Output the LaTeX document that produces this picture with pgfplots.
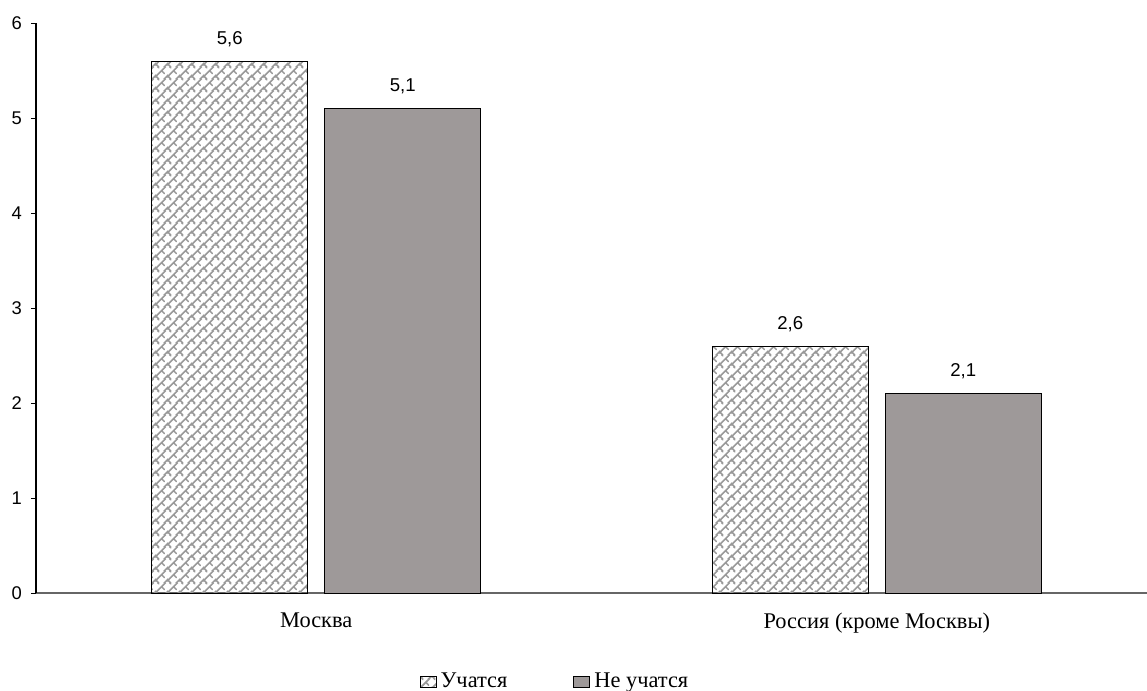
\documentclass[border=0pt]{standalone}
\usepackage{fontspec}
\setmainfont{Liberation Serif}
\setsansfont{Liberation Sans}
\usepackage{pgfplots}
\pgfplotsset{compat=1.18}
\usetikzlibrary{patterns}
\definecolor{bargray}{RGB}{158,153,153}
\newcommand\weavehook[2]{%
  \pgfpathmoveto{\pgfqpoint{\dimexpr(#1pt+0pt)*3/4\relax}{\dimexpr(#2pt+2pt)*3/4\relax}}%
  \pgfpathlineto{\pgfqpoint{\dimexpr(#1pt+4pt)*3/4\relax}{\dimexpr(#2pt+6pt)*3/4\relax}}%
  \pgfpathlineto{\pgfqpoint{\dimexpr(#1pt+6pt)*3/4\relax}{\dimexpr(#2pt+4pt)*3/4\relax}}%
  \pgfpathmoveto{\pgfqpoint{\dimexpr(#1pt+4pt)*3/4\relax}{\dimexpr(#2pt-2pt)*3/4\relax}}%
  \pgfpathlineto{\pgfqpoint{\dimexpr(#1pt+8pt)*3/4\relax}{\dimexpr(#2pt+2pt)*3/4\relax}}%
  \pgfpathlineto{\pgfqpoint{\dimexpr(#1pt+10pt)*3/4\relax}{\dimexpr(#2pt+0pt)*3/4\relax}}%
}
\pgfdeclarepatternformonly{weave}{\pgfqpoint{0pt}{0pt}}{\pgfqpoint{6pt}{6pt}}{\pgfqpoint{6pt}{6pt}}{%
  \pgfsetlinewidth{0.85pt}%
  \pgfsetroundcap
  \weavehook{-8}{-8}\weavehook{0}{-8}\weavehook{8}{-8}%
  \weavehook{-8}{0}\weavehook{0}{0}\weavehook{8}{0}%
  \weavehook{-8}{8}\weavehook{0}{8}\weavehook{8}{8}%
  \pgfusepath{stroke}}
\begin{document}
\begin{tikzpicture}
\useasboundingbox (-18pt,-49pt) rectangle (555.5pt,296.5pt);
\begin{axis}[
  scale only axis,
  width=555.5pt, height=285pt,
  anchor=south west, at={(0pt,0pt)},
  xmin=-0.5, xmax=1.482,
  ymin=0, ymax=6,
  ytick={0,1,2,3,4,5,6},
  xtick={0,1},
  xticklabels={Москва, Россия (кроме Москвы)},
  major x tick style={draw=none},
  extra x ticks={-0.5,0.5},
  extra x tick labels={},
  extra x tick style={major tick length=3.5pt, tick align=outside, tick style={black, line width=0.5pt}},
  axis lines*=left,
  x axis line style={black!60, line width=0.6pt},
  y axis line style={black, line width=0.6pt},
  tick align=outside,
  major tick length=2.5pt,
  ytick style={black, line width=0.5pt},
  /pgf/number format/assume math mode=true,
  yticklabel style={font=\sffamily\fontsize{9.2}{10}\selectfont, xshift=-1pt},
  xticklabel style={font=\rmfamily\fontsize{11.2}{13}\selectfont, yshift=-4pt},
  ybar=8.5pt,
  bar width=78pt,
  nodes near coords,
  nodes near coords style={font=\sffamily\fontsize{9.3}{10}\selectfont, yshift=3.5pt,
    /pgf/number format/.cd, use comma, fixed, fixed zerofill, precision=1},
  legend style={at={(0.468,0)}, anchor=center, yshift=-44.5pt, draw=none,
    font=\rmfamily\fontsize{11.2}{13}\selectfont,
    legend columns=2,
    /tikz/every even column/.append style={column sep=31pt}},
  legend cell align=left,
  legend image code/.code={\draw[#1] (0pt,-2.9pt) rectangle (8pt,2.9pt);},
]
\addplot[draw=black, line width=0.5pt, pattern=weave, pattern color=black!40] coordinates {(0,5.6) (1,2.6)};
\addplot[draw=black, line width=0.5pt, fill=bargray] coordinates {(0,5.1) (1,2.1)};
\legend{Учатся, Не учатся}
\end{axis}
\end{tikzpicture}
\end{document}
